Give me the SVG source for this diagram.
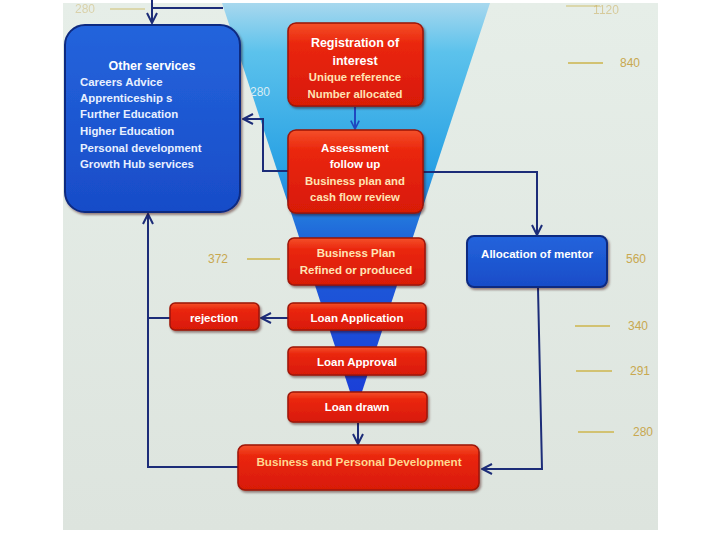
<svg xmlns="http://www.w3.org/2000/svg" width="720" height="540" viewBox="0 0 720 540">
<defs>
<linearGradient id="funnelGrad" x1="0" y1="0" x2="0" y2="1">
<stop offset="0" stop-color="#a8d8ee"/>
<stop offset="0.12" stop-color="#5cc2ec"/>
<stop offset="0.4" stop-color="#2aa2e4"/>
<stop offset="0.6" stop-color="#1e5ed8"/>
<stop offset="1" stop-color="#1a3cd8"/>
</linearGradient>
<linearGradient id="redGrad" x1="0" y1="0" x2="0" y2="1">
<stop offset="0" stop-color="#f4502a"/>
<stop offset="0.25" stop-color="#ea260c"/>
<stop offset="1" stop-color="#d81a06"/>
</linearGradient>
<linearGradient id="blueGrad" x1="0" y1="0" x2="0" y2="1">
<stop offset="0" stop-color="#2464dc"/>
<stop offset="1" stop-color="#184cc8"/>
</linearGradient>
<linearGradient id="bgGrad" x1="0" y1="0" x2="0" y2="1">
<stop offset="0" stop-color="#e6eee8"/>
<stop offset="1" stop-color="#dde4de"/>
</linearGradient>
<filter id="shadow" x="-10%" y="-10%" width="125%" height="135%">
<feDropShadow dx="1.5" dy="2" stdDeviation="1.2" flood-color="#300" flood-opacity="0.45"/>
</filter>
<marker id="arrow" viewBox="0 0 12 12" refX="11" refY="6" markerWidth="12" markerHeight="12" markerUnits="userSpaceOnUse" orient="auto">
<path d="M1,1 L11,6 L1,11" fill="none" stroke="#1c2c78" stroke-width="2"/>
</marker>
<marker id="arrowBlue" viewBox="0 0 12 12" refX="11" refY="6" markerWidth="10" markerHeight="10" markerUnits="userSpaceOnUse" orient="auto">
<path d="M1,1 L11,6 L1,11" fill="none" stroke="#2048c0" stroke-width="2"/>
</marker>
</defs>
<style>
text { font-family: "Liberation Sans", Arial, sans-serif; font-weight: bold; }
.red { fill: url(#redGrad); stroke: #9c1408; stroke-width: 1.5; filter: url(#shadow); }
.blue { fill: url(#blueGrad); stroke: #0c2a80; stroke-width: 2; filter: url(#shadow); }
.title { fill: #ffffff; font-size: 12.5px; text-anchor: middle; }
.sub { fill: #ffe4b4; font-size: 11.3px; text-anchor: middle; }
.lbl { fill: #ffffff; font-size: 11.5px; text-anchor: middle; }
.item { fill: #e8f0ff; font-size: 11.4px; }
.conn { fill: none; stroke: #1c2c78; stroke-width: 2; }
.tick { stroke: #d2c272; stroke-width: 2; }
.num { fill: #c8a850; font-size: 12px; font-weight: normal; }
</style>
<rect x="0" y="0" width="720" height="540" fill="#ffffff"/>
<rect x="63" y="3" width="595" height="527" fill="url(#bgGrad)"/>
<polygon points="222,3 490,3 356,410" fill="url(#funnelGrad)"/>
<g id="scale">
<line class="tick" x1="110" y1="9" x2="145" y2="9" opacity="0.5"/>
<text class="num" x="85" y="13" text-anchor="middle" opacity="0.4">280</text>
<line class="tick" x1="566" y1="6" x2="600" y2="6" opacity="0.5"/>
<text class="num" x="606" y="14" text-anchor="middle" opacity="0.5">1120</text>
<line class="tick" x1="568" y1="63" x2="603" y2="63"/>
<text class="num" x="630" y="67" text-anchor="middle">840</text>
<text class="num" x="260" y="96" text-anchor="middle" style="fill:#d8ecf4">280</text>
<line class="tick" x1="247" y1="259" x2="280" y2="259"/>
<text class="num" x="218" y="263" text-anchor="middle">372</text>
<text class="num" x="636" y="263" text-anchor="middle">560</text>
<line class="tick" x1="575" y1="326" x2="610" y2="326"/>
<text class="num" x="638" y="330" text-anchor="middle">340</text>
<line class="tick" x1="576" y1="371" x2="612" y2="371"/>
<text class="num" x="640" y="375" text-anchor="middle">291</text>
<line class="tick" x1="578" y1="432" x2="614" y2="432"/>
<text class="num" x="643" y="436" text-anchor="middle">280</text>
</g>
<g id="connectors">
<path class="conn" d="M223,8 H152 M152,0 V23" marker-end="url(#arrow)"/>
<path class="conn" d="M288,171 H263 V119 H243" marker-end="url(#arrow)"/>
<path class="conn" d="M423,172 H537 V235" marker-end="url(#arrow)"/>
<path class="conn" d="M538,288 L542,469 H482" marker-end="url(#arrow)"/>
<path class="conn" d="M288,318 H261" marker-end="url(#arrow)"/>
<path class="conn" d="M170,318 H149"/>
<path class="conn" d="M238,467 H148 V214" marker-end="url(#arrow)"/>
<path class="conn" d="M358,423 V444" marker-end="url(#arrow)"/>
<path fill="none" stroke="#2048c0" stroke-width="2" d="M355,107 V129" marker-end="url(#arrowBlue)"/>
</g>
<g id="other-services">
<rect class="blue" x="65" y="25" width="175" height="187" rx="20"/>
<text class="title" x="152" y="70" font-size="12.5">Other services</text>
<text class="item" x="80" y="86">Careers Advice</text>
<text class="item" x="80" y="102">Apprenticeship s</text>
<text class="item" x="80" y="118">Further Education</text>
<text class="item" x="80" y="135">Higher Education</text>
<text class="item" x="80" y="152">Personal development</text>
<text class="item" x="80" y="168">Growth Hub services</text>
</g>
<g id="registration">
<rect class="red" x="288" y="23" width="135" height="83" rx="8"/>
<text class="title" x="355" y="47">Registration of</text>
<text class="title" x="355" y="65">interest</text>
<text class="sub" x="355" y="81">Unique reference</text>
<text class="sub" x="355" y="98">Number allocated</text>
</g>
<g id="assessment">
<rect class="red" x="288" y="130" width="135" height="83" rx="8"/>
<text class="lbl" x="355" y="152">Assessment</text>
<text class="lbl" x="355" y="168">follow up</text>
<text class="sub" x="355" y="185" font-size="11">Business plan and</text>
<text class="sub" x="355" y="201" font-size="11">cash flow review</text>
</g>
<g id="business-plan">
<rect class="red" x="288" y="238" width="137" height="47" rx="6"/>
<text class="sub" x="356" y="257" style="font-size:11.5px">Business Plan</text>
<text class="sub" x="356" y="274" style="font-size:11.5px">Refined or produced</text>
</g>
<g id="loan-application">
<rect class="red" x="288" y="303" width="138" height="27" rx="5"/>
<text class="lbl" x="357" y="322">Loan Application</text>
</g>
<g id="rejection">
<rect class="red" x="170" y="303" width="89" height="27" rx="5"/>
<text class="lbl" x="214" y="322">rejection</text>
</g>
<g id="loan-approval">
<rect class="red" x="288" y="347" width="138" height="28" rx="5"/>
<text class="lbl" x="357" y="366">Loan Approval</text>
</g>
<g id="loan-drawn">
<rect class="red" x="288" y="392" width="139" height="30" rx="5"/>
<text class="lbl" x="357" y="411">Loan  drawn</text>
</g>
<g id="allocation-of-mentor">
<rect class="blue" x="467" y="236" width="140" height="51" rx="7"/>
<text class="lbl" x="537" y="258">Allocation of mentor</text>
</g>
<g id="business-personal-development">
<rect class="red" x="238" y="445" width="241" height="45" rx="7"/>
<text class="sub" x="359" y="466" style="font-size:11.7px;fill:#ffd890">Business  and Personal Development</text>
</g>
</svg>
